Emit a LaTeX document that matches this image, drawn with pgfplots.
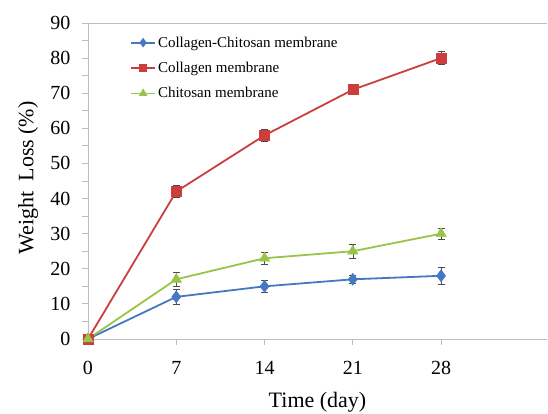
\documentclass[border=0pt]{standalone}
\usepackage{fontspec}
\setmainfont{Liberation Serif}
\usepackage{pgfplots}
\pgfplotsset{compat=1.18}
\definecolor{cblue}{RGB}{68,119,196}
\definecolor{cred}{RGB}{204,62,62}
\definecolor{cgreen}{RGB}{154,196,72}
\definecolor{axgray}{RGB}{190,190,190}
\begin{document}
\begin{tikzpicture}
\begin{axis}[
  name=ax,
  scale only axis,
  width=459pt, height=316pt,
  xmin=0, xmax=36.4, ymin=0, ymax=90,
  xtick={0,7,14,21,28},
  ytick={0,10,...,90},
  minor y tick num=1,
  axis line style={draw=none},
  tick style={axgray, line width=0.8pt},
  tick align=outside,
  major tick length=6pt, minor tick length=6pt,
  xtick pos=bottom, ytick pos=left,
  /pgf/number format/assume math mode=true,
  ticklabel style={font=\fontsize{20}{24}\selectfont},
  yticklabel style={xshift=-8pt},
  xticklabel style={yshift=-13pt},
  xlabel={Time (day)},
  ylabel={Weight\hspace{0.45em}Loss (\%)},
  label style={font=\fontsize{22}{26}\selectfont},
  xlabel style={at={(axis description cs:0.5,-0.2)}, anchor=center},
  ylabel style={at={(axis description cs:-0.1307,0.51)}, anchor=center, rotate=0},
  clip=false,
  legend style={draw=none, fill=none, at={(axis description cs:0.085,0.97)}, anchor=north west,
    font=\fontsize{15}{18}\selectfont, row sep=9.5pt, /tikz/every even column/.append style={column sep=2pt}},
  legend cell align=left,
  legend image code/.code={\draw[mark repeat=2,mark phase=2,mark options={scale=0.55}] plot coordinates {(0pt,0pt) (12pt,0pt) (24pt,0pt)};},
  error bars/error bar style={black!70, line width=0.6pt},
  error bars/error mark options={rotate=90, black!70, mark size=3.5pt, line width=0.6pt},
]
\draw[axgray, line width=0.9pt] (rel axis cs:0,1) -- (rel axis cs:0,0) -- (rel axis cs:1,0);
\draw[axgray, line width=0.9pt] (rel axis cs:0,1) -- (rel axis cs:1,1);
\addplot[cblue, line width=1.8pt, mark=diamond*, mark size=6pt, mark options={solid, fill=cblue, line width=0.5pt},
  error bars/.cd, y dir=both, y explicit] coordinates {
  (0,0) +- (0,0.3)
  (7,12) +- (0,2.1)
  (14,15) +- (0,1.6)
  (21,17) +- (0,1.1)
  (28,18) +- (0,2.4)
};
\addlegendentry{Collagen-Chitosan membrane}
\addplot[cred, line width=1.8pt, mark=square*, mark size=5pt, mark options={solid, fill=cred, line width=0.5pt},
  error bars/.cd, y dir=both, y explicit] coordinates {
  (0,0) +- (0,0.3)
  (7,42) +- (0,1.7)
  (14,58) +- (0,1.6)
  (21,71) +- (0,1.4)
  (28,80) +- (0,1.9)
};
\addlegendentry{Collagen membrane}
\addplot[cgreen, line width=1.8pt, mark=triangle*, mark size=6pt, mark options={solid, fill=cgreen, line width=0.5pt},
  error bars/.cd, y dir=both, y explicit] coordinates {
  (0,0) +- (0,0.3)
  (7,17) +- (0,2.0)
  (14,23) +- (0,1.7)
  (21,25) +- (0,2.0)
  (28,30) +- (0,1.6)
};
\addlegendentry{Chitosan membrane}
\end{axis}
\pgfresetboundingbox
\path ([xshift=-88pt,yshift=-75pt]ax.south west) rectangle ([xshift=1pt,yshift=23pt]ax.north east);
\end{tikzpicture}
\end{document}
